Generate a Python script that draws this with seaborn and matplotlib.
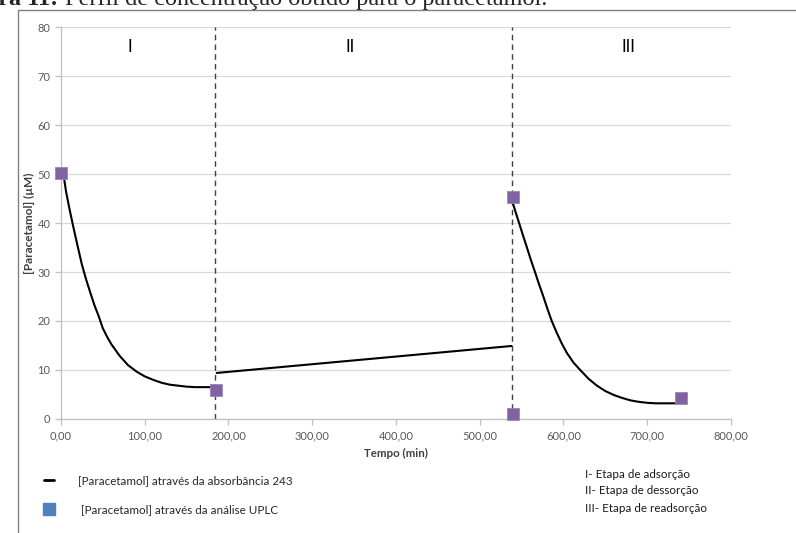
import pandas as pd
import matplotlib.pyplot as plt
import seaborn as sns
from matplotlib.lines import Line2D
from matplotlib.ticker import FuncFormatter, MultipleLocator

# Curva obtida pela absorbância
etapa1_t = [2, 6, 10, 15, 20, 25, 30, 35, 40, 45, 50, 55, 60, 70, 80, 90, 100, 110, 120,
            130, 140, 150, 160, 170, 182]
etapa1_c = [51, 46.5, 43, 39, 35.2, 31.5, 28.5, 25.8, 23.2, 21, 18.5, 16.8, 15.3, 12.9, 11.0,
            9.7, 8.7, 8.0, 7.4, 7.0, 6.8, 6.6, 6.5, 6.5, 6.5]
etapa2_t = [186, 538]
etapa2_c = [9.4, 14.9]
etapa3_t = [537, 542, 547, 552, 556, 561, 566, 571, 576, 581, 586, 592, 598, 604, 612, 620,
            630, 640, 650, 660, 670, 680, 690, 700, 710, 720, 735]
etapa3_c = [45.5, 42.7, 40, 37.3, 35.2, 32.5, 30, 27.4, 25, 22.4, 20, 17.6, 15.4, 13.5, 11.5,
            10, 8.2, 6.8, 5.7, 4.9, 4.3, 3.8, 3.5, 3.3, 3.2, 3.2, 3.2]

# Pontos da análise UPLC
uplc_t = [0, 185, 540, 540, 740]
uplc_c = [50.3, 6.0, 45.3, 1.0, 4.3]

limites = [184, 538]
etapas = ["I", "II", "III"]
etapas_x = [82, 345, 677]
etapas_desc = ["I- Etapa de adsorção", "II- Etapa de dessorção", "III- Etapa de readsorção"]

sns.set_style("white")
plt.rcParams['font.family'] = ['Lato', 'DejaVu Sans']

fig = plt.figure(figsize=(7.96, 5.33), dpi=100)
ax = fig.add_axes([0.0766, 0.2139, 0.8417, 0.7354])

for t, c in [(etapa1_t, etapa1_c), (etapa2_t, etapa2_c), (etapa3_t, etapa3_c)]:
    df = pd.DataFrame({"t": t, "c": c})
    sns.lineplot(data=df, x="t", y="c", ax=ax, color="black", linewidth=1.5,
                 sort=False, estimator=None)

for x in limites:
    ax.axvline(x, color="#404040", linewidth=1, linestyle=(0, (4, 3)), zorder=1)

df_uplc = pd.DataFrame({"t": uplc_t, "c": uplc_c})
sns.scatterplot(data=df_uplc, x="t", y="c", ax=ax, marker="s", s=72,
                color="#8064a2", edgecolor="#9b84bb", linewidth=0.6, zorder=5, clip_on=False)

for lab, x in zip(etapas, etapas_x):
    ax.text(x, 76, lab, ha="center", va="center", fontsize=12, color="black")

ax.set_xlim(0, 800)
ax.set_ylim(0, 80)
ax.xaxis.set_major_locator(MultipleLocator(100))
ax.yaxis.set_major_locator(MultipleLocator(10))
ax.xaxis.set_major_formatter(FuncFormatter(lambda v, p: f"{v:.2f}".replace(".", ",")))
ax.yaxis.set_major_formatter(FuncFormatter(lambda v, p: f"{v:.0f}"))
ax.grid(axis="y", color="#d9d9d9", linewidth=0.9)
ax.set_axisbelow(True)
for s in ["top", "right"]:
    ax.spines[s].set_visible(False)
for s in ["left", "bottom"]:
    ax.spines[s].set_color("#bfbfbf")
    ax.spines[s].set_linewidth(0.9)
ax.tick_params(axis="both", colors="#bfbfbf", length=4, width=0.9, direction="out",
               labelcolor="#595959", labelsize=8, left=True, bottom=True)
ax.tick_params(axis="x", pad=4)
ax.set_xlabel("Tempo (min)", fontsize=8.3, fontweight="bold", color="#404040", labelpad=5)
ax.set_ylabel("[Paracetamol] (µM)", fontsize=8.5, fontweight="bold", color="#404040", labelpad=1.5)

# Legenda
handles = [Line2D([], [], color="black", linewidth=2),
           Line2D([], [], color="#4f81bd", marker="s", linestyle="none", markersize=8)]
labels = ["[Paracetamol] através da absorbância 243", " [Paracetamol] através da análise UPLC"]
fig.legend(handles, labels, loc="upper left", bbox_to_anchor=(0.055, 0.108), frameon=False,
           fontsize=8.4, handlelength=0.9, handletextpad=2.0, labelspacing=1.5,
           borderaxespad=0, borderpad=0)
for i, d in enumerate(etapas_desc):
    fig.text(0.735, 1 - (474 + 17 * i) / 533, d, fontsize=8.4, va="center", color="#1a1a1a")

# Moldura e título recortado
fig.add_artist(Line2D([0.0226, 1.0], [0.981, 0.981], color="#808080", linewidth=1))
fig.add_artist(Line2D([0.0226, 0.0226], [0.0, 0.981], color="#808080", linewidth=1))
fig.text(0.0729, 0.9905, "Figura 11:", fontsize=17.5, fontweight="bold", ha="right",
         family=["Liberation Serif", "DejaVu Serif"], va="baseline")
fig.text(0.0817, 0.9905, "Perfil de concentração obtido para o paracetamol.", fontsize=17.5,
         family=["Liberation Serif", "DejaVu Serif"], va="baseline")

fig.savefig("out.png", dpi=100)
